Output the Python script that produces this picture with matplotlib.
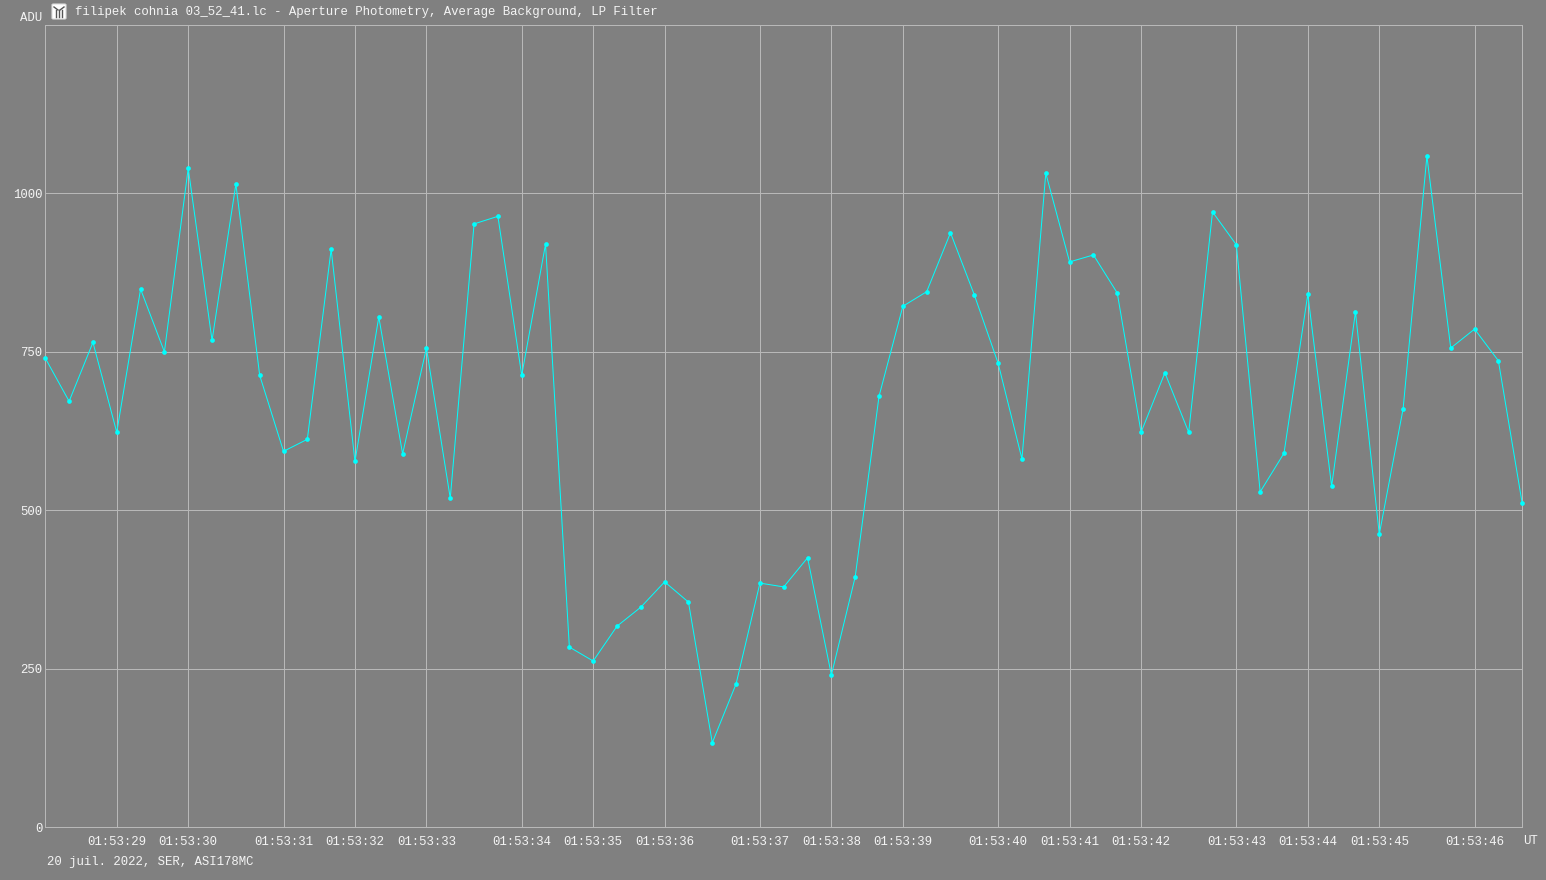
import matplotlib
matplotlib.use("Agg")
import matplotlib.pyplot as plt
from matplotlib.patches import FancyBboxPatch
from matplotlib.lines import Line2D

# ADU measured for each frame
adu = [740, 672, 765, 623, 849, 750, 1040, 768, 1015, 713, 593, 612, 912, 577, 805, 589,
       756, 519, 952, 964, 713, 920, 284, 262, 317, 347, 387, 355, 133, 226, 385, 379,
       425, 240, 395, 680, 822, 845, 938, 840, 732, 581, 1032, 892, 903, 843, 623, 717,
       623, 971, 919, 529, 590, 841, 538, 813, 462, 660, 1059, 756, 786, 736, 511]

frames_ticks = [3, 6, 10, 13, 16, 20, 23, 26, 30, 33, 36, 40, 43, 46, 50, 53, 56, 60]
time_labels = ["01:53:29", "01:53:30", "01:53:31", "01:53:32", "01:53:33", "01:53:34",
               "01:53:35", "01:53:36", "01:53:37", "01:53:38", "01:53:39", "01:53:40",
               "01:53:41", "01:53:42", "01:53:43", "01:53:44", "01:53:45", "01:53:46"]
adu_ticks = [0, 250, 500, 750, 1000]

W, H = 1546, 880
GRIS = "#808080"
GRILLE = "#b8b8b8"
TEXTE = "#f4f4f4"
plt.rcParams["font.family"] = ["Liberation Mono", "DejaVu Sans Mono"]

fig = plt.figure(figsize=(W / 100, H / 100), dpi=100, facecolor=GRIS)
ax = fig.add_axes([45.3 / W, 1 - 827 / H, (1522.2 - 45.3) / W, (827 - 25) / H], facecolor=GRIS)

ax.plot(range(len(adu)), adu, color="#00ffff", lw=0.72, marker="o", ms=3.4, mew=0, clip_on=False, zorder=3)

ax.set_xlim(0, 62)
ax.set_ylim(0, 802 / 0.6335)
ax.set_xticks(frames_ticks)
ax.set_xticklabels(time_labels)
ax.set_yticks(adu_ticks)
ax.grid(True, color=GRILLE, lw=0.72)
ax.set_axisbelow(True)
ax.tick_params(length=0, colors=TEXTE, labelsize=8.95, pad=6.5)
ax.tick_params(axis="y", pad=2)
for s in ax.spines.values():
    s.set_color(GRILLE)
    s.set_linewidth(0.72)


def ecrit(x, y, txt, **kw):
    fig.text(x / W, 1 - y / H, txt, color=TEXTE, fontsize=8.95, va="center", **kw)


ecrit(75, 12.5, "filipek cohnia 03_52_41.lc - Aperture Photometry, Average Background, LP Filter")
ecrit(20, 18, "ADU")
ecrit(47, 862, "20 juil. 2022, SER, ASI178MC")
ecrit(1523, 841, "UT")

# petite icone de la fenetre
fig.add_artist(FancyBboxPatch((52 / W, 1 - 19 / H), 14 / W, 15 / H, boxstyle="round,pad=0,rounding_size=0.001",
                              transform=fig.transFigure, fc="white", ec="#dddddd", lw=0.8))
for xs, ys in [([54, 58], [7, 10]), ([64, 60], [7, 10]), ([56, 56], [10, 17]), ([59, 59], [10, 17]), ([62, 62], [10, 17])]:
    fig.add_artist(Line2D([x / W for x in xs], [1 - y / H for y in ys], color="#555555", lw=1))

fig.savefig("out.png", dpi=100, facecolor=GRIS)
